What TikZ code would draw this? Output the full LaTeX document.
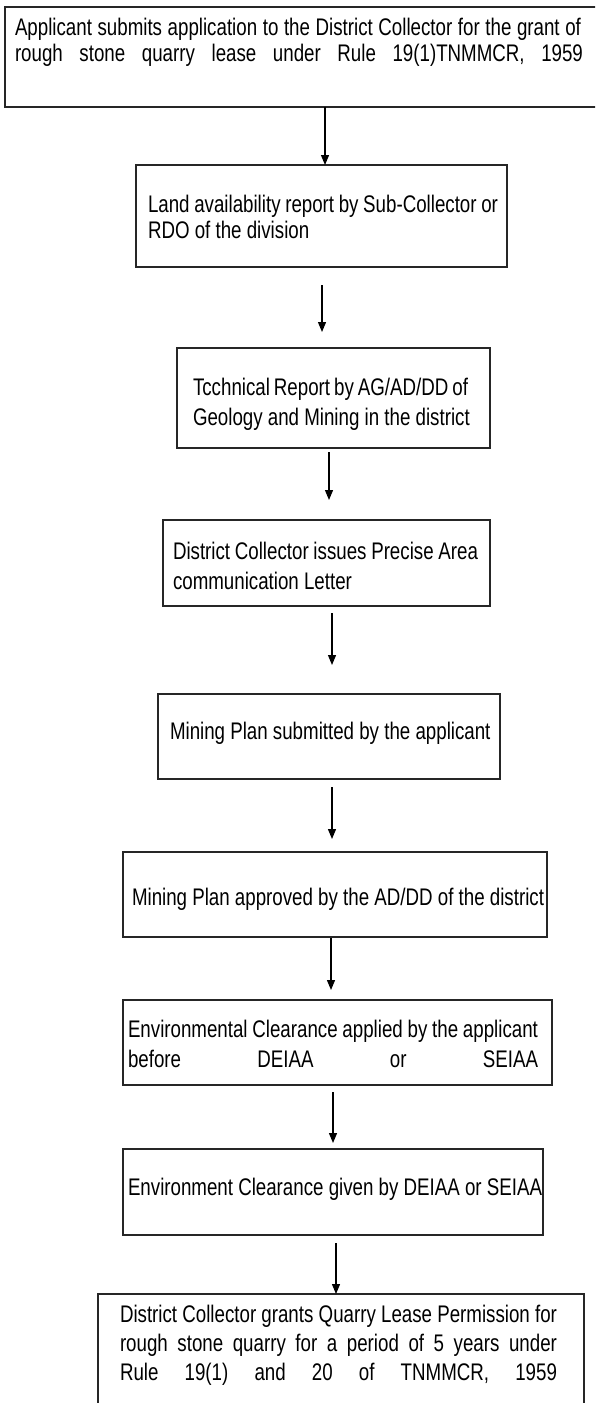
\documentclass[tikz,border=0pt]{standalone}
\usepackage{fontspec}
\setmainfont{Liberation Sans}[FakeStretch=0.78]
\usetikzlibrary{arrows.meta}
\newcommand\jline[2]{\hbox to #1pt{#2}}
\newcommand\nline[1]{\hbox{#1}}
\tikzset{
  box/.style={draw=black!85, line width=1.5pt, inner sep=0pt, outer sep=0pt, fill=white},
  boxline/.style={draw=black!85, line width=1.5pt},
  txt/.style={anchor=base west, inner sep=0pt, outer sep=0pt, font=\fontsize{24}{30}\selectfont},
  arr/.style={line width=1.2pt, -{Triangle[width=8pt,length=10pt]}},
}
\begin{document}
\begin{tikzpicture}[x=1pt,y=-1pt]
\useasboundingbox (0,0) rectangle (595,1403);
\clip (0,0) rectangle (595,1403);
\fill[white] (0,0) rectangle (595,1403);
% boxes
\node[inner sep=0pt, outer sep=0pt, minimum width=605pt, minimum height=100pt] (b1) at (307.5,57) {};
\draw[boxline] (b1.north east) -- (b1.north west) -- (b1.south west) -- (b1.south east);
\node[box, minimum width=371pt, minimum height=102pt] (b2) at (321.5,216) {};
\node[box, minimum width=313pt, minimum height=100pt] (b3) at (333.5,398) {};
\node[box, minimum width=327pt, minimum height=86pt] (b4) at (326.5,563) {};
\node[box, minimum width=342pt, minimum height=85pt] (b5) at (329,736.5) {};
\node[box, minimum width=424pt, minimum height=85pt] (b6) at (335,894.5) {};
\node[box, minimum width=429pt, minimum height=85pt] (b7) at (337.5,1042.5) {};
\node[box, minimum width=420pt, minimum height=86pt] (b8) at (333,1192) {};
\node[box, minimum width=486pt, minimum height=136pt] (b9) at (341,1362) {};
% texts
\node[txt, font=\fontsize{24}{26}\selectfont] (t1) at (15,35) {\vtop{%
  \jline{566}{Applicant submits application to the District Collector for the grant of}
  \jline{568}{rough stone quarry lease under Rule 19(1)TNMMCR, 1959}}};
\node[txt, font=\fontsize{24}{26}\selectfont] (t2) at (148,212) {\vtop{%
  \jline{350}{Land availability report by Sub-Collector or}
  \nline{RDO of the division}}};
\node[txt] (t3) at (193,395) {\vtop{%
  \jline{275}{Tcchnical Report by AG/AD/DD of}
  \nline{Geology and Mining in the district}}};
\node[txt] (t4) at (173,559) {\vtop{%
  \jline{305}{District Collector issues Precise Area}
  \nline{communication Letter}}};
\node[txt] (t5) at (170,739) {Mining Plan submitted by the applicant};
\node[txt] (t6) at (132,905) {Mining Plan approved by the AD/DD of the district};
\node[txt] (t7) at (128,1037) {\vtop{%
  \jline{410}{Environmental Clearance applied by the applicant}
  \jline{410}{before DEIAA or SEIAA}}};
\node[txt] (t8) at (128,1195) {Environment Clearance given by DEIAA or SEIAA};
\node[txt, font=\fontsize{24}{29}\selectfont] (t9) at (120,1322) {\vtop{%
  \jline{437}{District Collector grants Quarry Lease Permission for}
  \jline{437}{rough stone quarry for a period of 5 years under}
  \jline{437}{Rule 19(1) and 20 of TNMMCR, 1959}}};
% connectors
\draw[arr] ([xshift=17.5pt]b1.south) -- ([xshift=3.5pt]b2.north);
\draw[arr] ([xshift=0.5pt,yshift=-18pt]b2.south) -- ([xshift=-11.5pt,yshift=16pt]b3.north);
\draw[arr] ([xshift=-4.5pt,yshift=-4pt]b3.south) -- ([xshift=2.5pt,yshift=20pt]b4.north);
\draw[arr] ([xshift=5.5pt,yshift=-7pt]b4.south) -- ([xshift=3pt,yshift=29pt]b5.north);
\draw[arr] ([xshift=3pt,yshift=-8pt]b5.south) -- ([xshift=-3pt,yshift=13pt]b6.north);
\draw[arr] ([xshift=-4pt,yshift=-1pt]b6.south) -- ([xshift=-6.5pt,yshift=10pt]b7.north);
\draw[arr] ([xshift=-4.5pt,yshift=-7pt]b7.south) -- ([xshift=0pt,yshift=6pt]b8.north);
\draw[arr] ([xshift=3pt,yshift=-8pt]b8.south) -- ([xshift=-5pt]b9.north);
\end{tikzpicture}
\end{document}
